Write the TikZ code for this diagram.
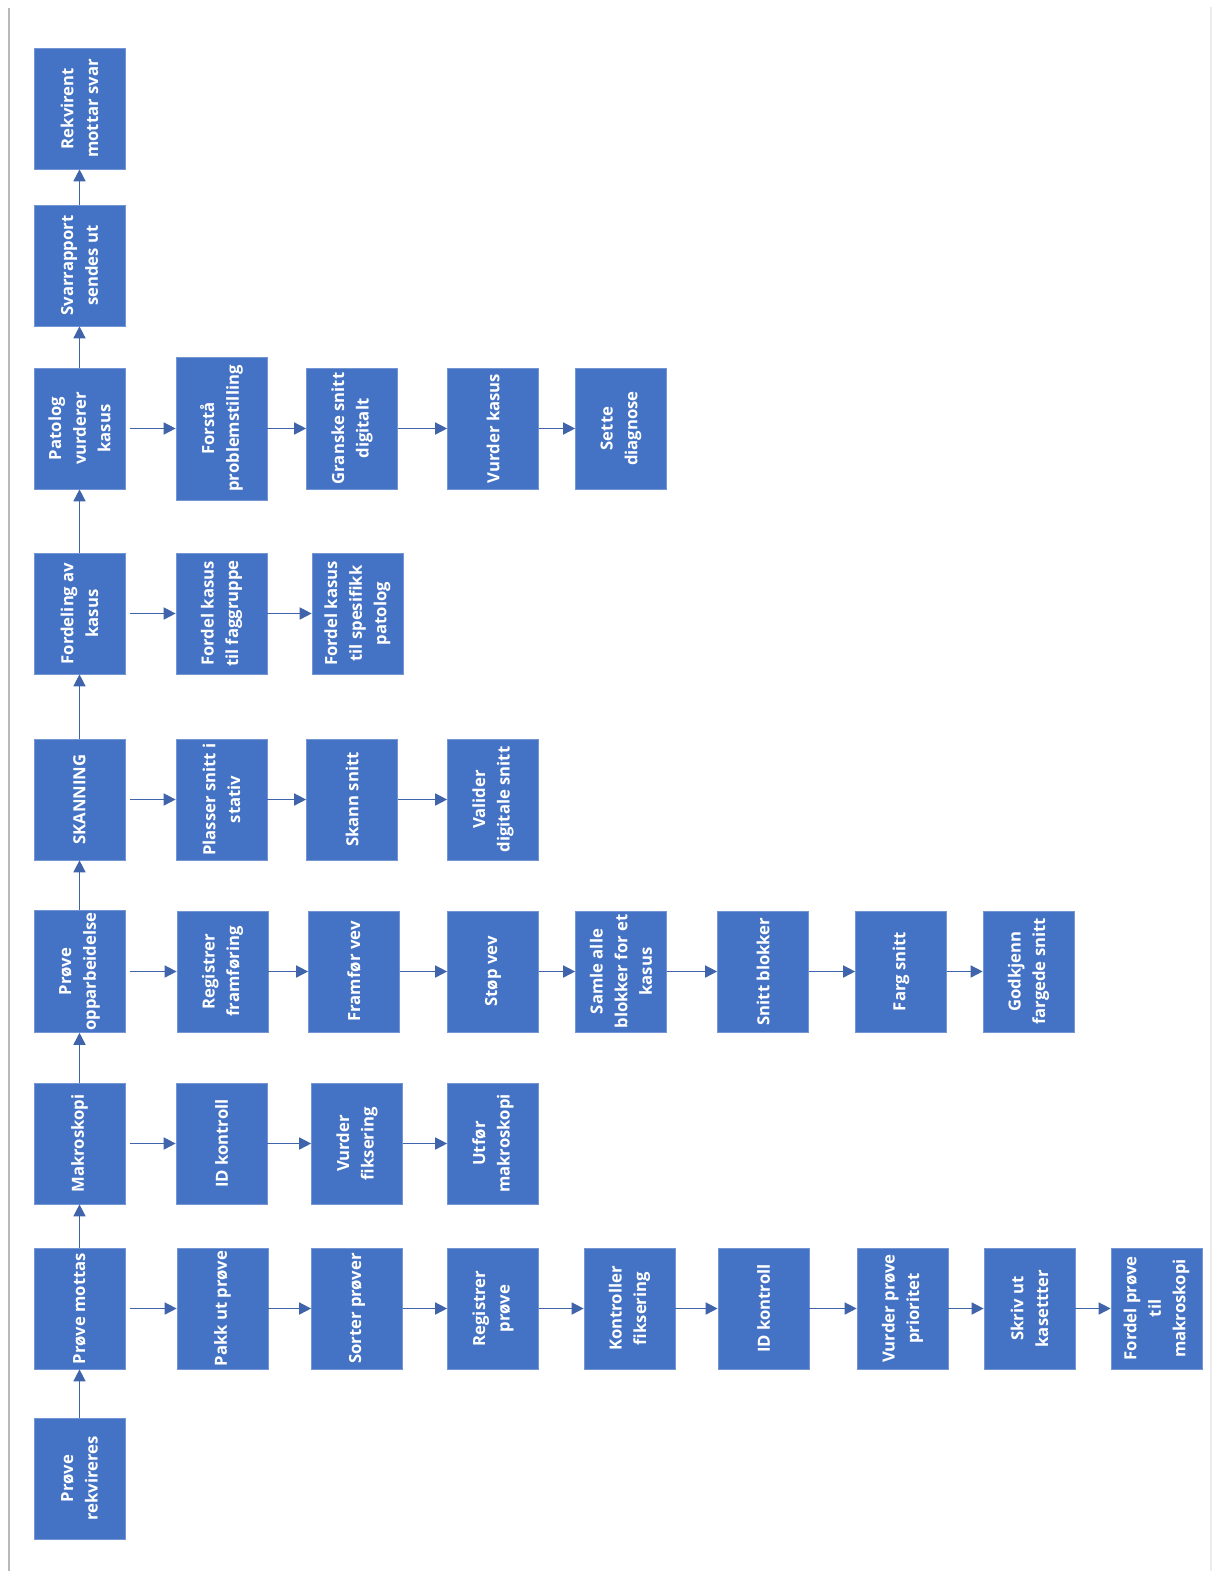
\documentclass[tikz,border=0pt]{standalone}
\usepackage{fontspec}
\setmainfont{Open Sans}
\definecolor{officeblue}{RGB}{68,114,196}
\definecolor{arrowblue}{RGB}{64,100,172}
\usepackage{tikz}
\usetikzlibrary{arrows.meta,positioning}

\begin{document}
\begin{tikzpicture}[
			x=0.02cm, y=-0.02cm,
			box/.style={draw=officeblue!75!white, fill=officeblue, rotate=90,
				minimum width=2.42cm, minimum height=1.82cm, inner sep=1pt,
				align=center, text=white,
				font=\fontsize{9.5}{14}\selectfont\bfseries},
			tallbox/.style={box, minimum width=2.86cm},
			arrow/.style={-{Triangle[length=0.24cm,width=0.24cm]}, line width=0.9pt, arrowblue},
			outarrow/.style={arrow, shorten <=0.09cm}
		]
			\useasboundingbox (0,0) rectangle (1212,1571);
			% page edges of the original
			\draw[gray!55, line width=0.8pt] (9,8) -- (9,1571);
			\draw[gray!15, line width=0.8pt] (1211,7) -- (1211,1571);

			% main column
			\node[box] (rekv) at (79.5,1478.5) {Prøve\\rekvireres};
			\node[box] (mottas) at (79.5,1308.5) {Prøve mottas};
			\node[box] (makro) at (79.5,1143.5) {Makroskopi};
			\node[box] (oppar) at (79.5,971.5) {Prøve\\opparbeidelse};
			\node[box] (skann) at (79.5,799.5) {SKANNING};
			\node[box] (fordeling) at (79.5,613.5) {Fordeling av\\kasus};
			\node[box] (patolog) at (79.5,428.5) {Patolog\\vurderer\\kasus};
			\node[box] (svar) at (79.5,265.5) {Svarrapport\\sendes ut};
			\node[box] (rekvirent) at (79.5,108.5) {Rekvirent\\mottar svar};

			\draw[arrow] (rekv) -- (mottas);
			\draw[arrow] (mottas) -- (makro);
			\draw[arrow] (makro) -- (oppar);
			\draw[arrow] (oppar) -- (skann);
			\draw[arrow] (skann) -- (fordeling);
			\draw[arrow] (fordeling) -- (patolog);
			\draw[arrow] (patolog) -- (svar);
			\draw[arrow] (svar) -- (rekvirent);

			% Prøve mottas
			\node[box] (pakk) at (222.5,1308.5) {Pakk ut prøve};
			\node[box] (sorter) at (357,1308.5) {Sorter prøver};
			\node[box] (regprove) at (493,1308.5) {Registrer\\prøve};
			\node[box] (kontroller) at (629.5,1308.5) {Kontroller\\fiksering};
			\node[box] (idmottak) at (763.5,1308.5) {ID kontroll};
			\node[box] (prioritet) at (902.5,1308.5) {Vurder prøve\\prioritet};
			\node[box] (kasetter) at (1029.5,1308.5) {Skriv ut\\kasettter};
			\node[box] (tilmakro) at (1156.5,1308.5) {Fordel prøve\\til\\makroskopi};

			\draw[outarrow] (mottas) -- (pakk);
			\draw[arrow] (pakk) -- (sorter);
			\draw[arrow] (sorter) -- (regprove);
			\draw[arrow] (regprove) -- (kontroller);
			\draw[arrow] (kontroller) -- (idmottak);
			\draw[arrow] (idmottak) -- (prioritet);
			\draw[arrow] (prioritet) -- (kasetter);
			\draw[arrow] (kasetter) -- (tilmakro);

			% Makroskopi
			\node[box] (idmakro) at (221.5,1143.5) {ID kontroll};
			\node[box] (fiksering) at (357,1143.5) {Vurder\\fiksering};
			\node[box] (utfor) at (493,1143.5) {Utfør\\makroskopi};

			\draw[outarrow] (makro) -- (idmakro);
			\draw[arrow] (idmakro) -- (fiksering);
			\draw[arrow] (fiksering) -- (utfor);

			% Prøve opparbeidelse
			\node[box] (regfram) at (222.5,971.5) {Registrer\\framføring};
			\node[box] (framfor) at (354,971.5) {Framfør vev};
			\node[box] (stop) at (493,971.5) {Støp vev};
			\node[box] (samle) at (621,971.5) {Samle alle\\blokker for et\\kasus};
			\node[box] (snittblokk) at (763,971.5) {Snitt blokker};
			\node[box] (farg) at (901,971.5) {Farg snitt};
			\node[box] (godkjenn) at (1028.5,971.5) {Godkjenn\\fargede snitt};

			\draw[outarrow] (oppar) -- (regfram);
			\draw[arrow] (regfram) -- (framfor);
			\draw[arrow] (framfor) -- (stop);
			\draw[arrow] (stop) -- (samle);
			\draw[arrow] (samle) -- (snittblokk);
			\draw[arrow] (snittblokk) -- (farg);
			\draw[arrow] (farg) -- (godkjenn);

			% SKANNING
			\node[box] (plasser) at (221.5,799.5) {Plasser snitt i\\stativ};
			\node[box] (skannsnitt) at (352,799.5) {Skann snitt};
			\node[box] (valider) at (493,799.5) {Valider\\digitale snitt};

			\draw[outarrow] (skann) -- (plasser);
			\draw[arrow] (plasser) -- (skannsnitt);
			\draw[arrow] (skannsnitt) -- (valider);

			% Fordeling av kasus
			\node[box] (faggruppe) at (221.5,613.5) {Fordel kasus\\til faggruppe};
			\node[box] (spesifikk) at (357.5,613.5) {Fordel kasus\\til spesifikk\\patolog};

			\draw[outarrow] (fordeling) -- (faggruppe);
			\draw[arrow] (faggruppe) -- (spesifikk);

			% Patolog vurderer kasus
			\node[tallbox] (forsta) at (221.5,428.5) {Forstå\\problemstilling};
			\node[box] (granske) at (352,428.5) {Granske snitt\\digitalt};
			\node[box] (vurderkasus) at (493,428.5) {Vurder kasus};
			\node[box] (diagnose) at (621,428.5) {Sette\\diagnose};

			\draw[outarrow] (patolog) -- (forsta);
			\draw[arrow] (forsta) -- (granske);
			\draw[arrow] (granske) -- (vurderkasus);
			\draw[arrow] (vurderkasus) -- (diagnose);
		\end{tikzpicture}
\end{document}
